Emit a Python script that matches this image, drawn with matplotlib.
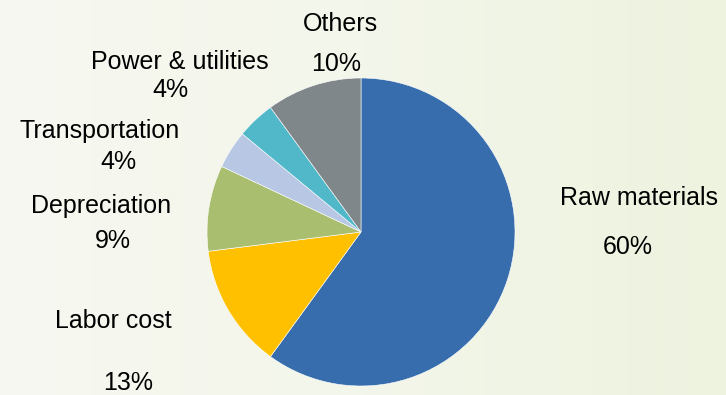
import matplotlib
matplotlib.use("Agg")
import matplotlib.pyplot as plt
import numpy as np
from matplotlib.colors import LinearSegmentedColormap

categories = ["Raw materials", "Labor cost", "Depreciation", "Transportation",
              "Power & utilities", "Others"]
values = [60, 13, 9, 4, 4, 10]
pct_labels = ["60%", "13%", "9%", "4%", "4%", "10%"]
colors = ["#376DAC", "#FFC000", "#A9BF6F", "#B7C7E4", "#50B8C8", "#80878A"]

W, H = 726, 395
fig = plt.figure(figsize=(W / 100, H / 100), dpi=100)

# background gradient
bg = fig.add_axes([0, 0, 1, 1], zorder=0)
cmap = LinearSegmentedColormap.from_list("bg", ["#F7F8F1", "#F3F6EA", "#EDF3DF"])
bg.imshow(np.linspace(0, 1, 256)[None, :], aspect="auto", cmap=cmap,
          extent=[0, 1, 0, 1])
bg.axis("off")

ax = fig.add_axes([0, 0, 1, 1], zorder=1)
ax.patch.set_alpha(0)
cx, cy, r = 361, H - 232, 154
ax.pie(values, colors=colors, startangle=90, counterclock=False,
       center=(cx, cy), radius=r, frame=True,
       wedgeprops=dict(edgecolor="white", linewidth=0.4))
ax.set_xlim(0, W)
ax.set_ylim(0, H)
ax.set_aspect("equal")
ax.axis("off")

# label positions in pixel coords (name center, pct center)
name_pos = [(639, 198), (113, 321), (101, 206), (100, 131), (180, 62), (340, 24)]
pct_pos = [(628, 247), (128, 383), (113, 241), (118, 162), (170, 90), (336, 64)]

fs = 18
font = "Liberation Sans"
for cat, pct, (nx, ny), (px, py) in zip(categories, pct_labels, name_pos, pct_pos):
    ax.text(nx, H - ny, cat, ha="center", va="center", fontsize=fs,
            family=font, color="#000000")
    ax.text(px, H - py, pct, ha="center", va="center", fontsize=fs,
            family=font, color="#000000")

fig.savefig("out.png", dpi=100)
